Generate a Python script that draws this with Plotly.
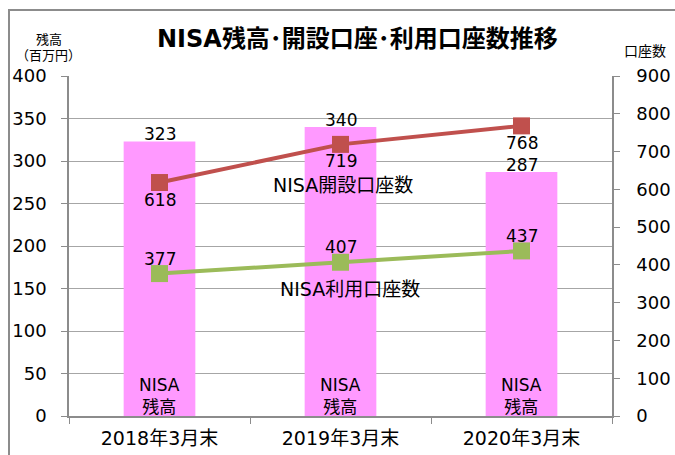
import plotly.graph_objects as go

categories = ["2018年3月末", "2019年3月末", "2020年3月末"]
balance = [323, 340, 287]              # NISA残高 (百万円)
opened_accounts = [618, 719, 768]      # NISA開設口座数
used_accounts = [377, 407, 437]        # NISA利用口座数
bar_inner_label = "NISA<br>残高"
left_ticks = [0, 50, 100, 150, 200, 250, 300, 350, 400]
right_ticks = [0, 100, 200, 300, 400, 500, 600, 700, 800, 900]

FONT = "DejaVu Sans, Noto Sans CJK JP, sans-serif"
PINK = "#FF99FF"
RED = "#C0504D"
GREEN = "#9BBB59"
GRID = "#A6A6A6"
AXIS = "#8C8C8C"

L, T, W, H = 69, 76, 543, 340   # plot area in pixels


def px(x):
    return (x - L) / W


def py(y):
    return (T + H - y) / H


fig = go.Figure()

fig.add_trace(go.Bar(
    x=categories, y=balance,
    marker=dict(color=PINK, line=dict(width=0)),
    showlegend=False, hoverinfo="x+y",
))

fig.add_trace(go.Scatter(
    x=categories, y=opened_accounts, yaxis="y2",
    mode="lines+markers",
    line=dict(color=RED, width=4),
    marker=dict(symbol="square", size=17, color=RED),
    cliponaxis=False, showlegend=False,
))

fig.add_trace(go.Scatter(
    x=categories, y=used_accounts, yaxis="y2",
    mode="lines+markers",
    line=dict(color=GREEN, width=4),
    marker=dict(symbol="square", size=17, color=GREEN),
    cliponaxis=False, showlegend=False,
))

VAL_FONT = dict(size=17, color="black", family=FONT)
annotations = []
for c, v in zip(categories, balance):
    annotations.append(dict(x=c, y=v, xref="x", yref="y", text=str(v),
                            showarrow=False, yanchor="middle", yshift=7,
                            font=VAL_FONT))
    annotations.append(dict(x=c, y=0, xref="x", yref="y", text=bar_inner_label,
                            showarrow=False, yanchor="bottom", align="center",
                            font=dict(size=17, color="black", family=FONT),
                            yshift=-3))
for c, v in zip(categories, opened_accounts):
    annotations.append(dict(x=c, y=v, xref="x", yref="y2", text=str(v),
                            showarrow=False, yanchor="middle", yshift=-17,
                            font=VAL_FONT))
for c, v in zip(categories, used_accounts):
    annotations.append(dict(x=c, y=v, xref="x", yref="y2", text=str(v),
                            showarrow=False, yanchor="middle", yshift=15,
                            font=VAL_FONT))

annotations += [
    dict(x=px(357), y=py(39), xref="paper", yref="paper",
         text="<b>NISA残高･開設口座･利用口座数推移</b>", showarrow=False,
         font=dict(size=24, color="black", family=FONT),
         xanchor="center", yanchor="middle"),
    dict(x=px(49), y=py(40), xref="paper", yref="paper",
         text="残高", showarrow=False,
         font=dict(size=13, color="black", family=FONT),
         xanchor="center", yanchor="middle"),
    dict(x=px(48), y=py(55), xref="paper", yref="paper",
         text="（百万円）", showarrow=False,
         font=dict(size=13, color="black", family=FONT),
         xanchor="center", yanchor="middle"),
    dict(x=px(645), y=py(51), xref="paper", yref="paper",
         text="口座数", showarrow=False,
         font=dict(size=14, color="black", family=FONT),
         xanchor="center", yanchor="middle"),
    dict(x=px(343), y=py(185), xref="paper", yref="paper",
         text="NISA開設口座数", showarrow=False,
         font=dict(size=19, color="black", family=FONT),
         xanchor="center", yanchor="middle"),
    dict(x=px(350), y=py(289), xref="paper", yref="paper",
         text="NISA利用口座数", showarrow=False,
         font=dict(size=19, color="black", family=FONT),
         xanchor="center", yanchor="middle"),
]

fig.update_layout(
    width=675, height=455,
    margin=dict(l=L, r=675 - L - W, t=T, b=455 - T - H, autoexpand=False),
    paper_bgcolor="white", plot_bgcolor="white",
    font=dict(family=FONT, color="black"),
    bargap=0.604,
    showlegend=False,
    xaxis=dict(
        type="category", tickson="boundaries", ticks="outside", ticklen=6,
        tickcolor=AXIS, showline=True, linecolor=AXIS, linewidth=1.5,
        showgrid=False, tickfont=dict(size=19, family=FONT, color="black"),
        ticklabelstandoff=4, fixedrange=True, automargin=False,
    ),
    yaxis=dict(
        range=[0, 400], tickvals=left_ticks, ticks="outside", ticklen=6,
        tickcolor=AXIS, showline=True, linecolor=AXIS, linewidth=1.5,
        showgrid=True, gridcolor=GRID, gridwidth=1, zeroline=False,
        tickfont=dict(size=18, family=FONT, color="black"),
        ticklabelstandoff=11, automargin=False,
    ),
    yaxis2=dict(
        range=[0, 900], tickvals=right_ticks, overlaying="y", side="right",
        ticks="outside", ticklen=6, tickcolor=AXIS,
        showline=True, linecolor=AXIS, linewidth=1.5,
        showgrid=False, zeroline=False,
        tickfont=dict(size=18, family=FONT, color="black"),
        ticklabelstandoff=13, automargin=False,
    ),
    annotations=annotations,
    shapes=[dict(
        type="rect", xref="paper", yref="paper",
        x0=px(9), x1=px(690), y0=py(470), y1=py(10),
        line=dict(color=AXIS, width=2), fillcolor="rgba(0,0,0,0)",
        layer="below",
    )],
)

fig.write_html("out.html",
               config={"displayModeBar": False},
               post_script="document.body.style.margin='0';document.body.style.padding='0';")
